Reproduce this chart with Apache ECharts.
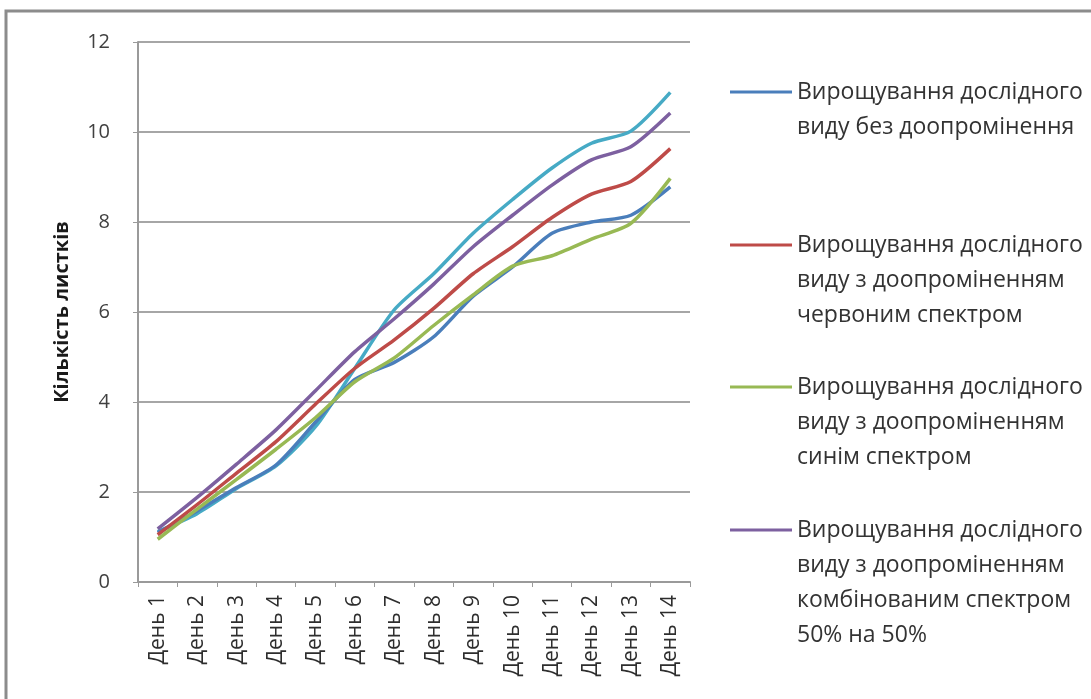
<!DOCTYPE html>
<html>
<head>
<meta charset="utf-8">
<script src="https://cdn.jsdelivr.net/npm/echarts@6/dist/echarts.min.js"></script>
<style>
  html, body { margin: 0; padding: 0; background: #ffffff; }
  #chart { width: 1091px; height: 699px; }
</style>
</head>
<body>
<div id="chart"></div>
<script>
// Leaf count per day for each growing regime
const days = ['День 1', 'День 2', 'День 3', 'День 4', 'День 5', 'День 6', 'День 7',
              'День 8', 'День 9', 'День 10', 'День 11', 'День 12', 'День 13', 'День 14'];

const noLight   = [1.10, 1.58, 2.10, 2.60, 3.55, 4.50, 4.88, 5.45, 6.35, 7.00, 7.75, 8.00, 8.15, 8.78];
const redLight  = [1.05, 1.72, 2.42, 3.12, 3.95, 4.75, 5.38, 6.08, 6.85, 7.45, 8.10, 8.62, 8.90, 9.63];
const blueLight = [0.95, 1.62, 2.28, 2.95, 3.65, 4.45, 4.98, 5.70, 6.38, 7.02, 7.25, 7.62, 7.97, 8.97];
const combined  = [1.18, 1.88, 2.62, 3.38, 4.25, 5.12, 5.85, 6.62, 7.45, 8.15, 8.82, 9.38, 9.67, 10.42];
const extra     = [1.12, 1.52, 2.08, 2.58, 3.45, 4.75, 6.05, 6.85, 7.75, 8.50, 9.20, 9.75, 10.02, 10.88];

const seriesNames = [
  'Вирощування дослідного\nвиду без доопромінення',
  'Вирощування дослідного\nвиду з доопроміненням\nчервоним спектром',
  'Вирощування дослідного\nвиду з доопроміненням\nсинім спектром',
  'Вирощування дослідного\nвиду з доопроміненням\nкомбінованим спектром\n50% на 50%',
  'Серія 5'
];
const yTicks = { min: 0, max: 12, step: 2 };

const colors = ['#4a7ebb', '#be4b48', '#98b954', '#7d60a0', '#46aac5'];
const values = [noLight, redLight, blueLight, combined, extra];

const FONT = '"Open Sans", "Noto Sans", sans-serif';
const LINE_H = 35;
// vertical centre of the first text line of each legend entry
const legendRows = [92, 245, 387, 530];

// One legend per entry, so the line sample sits beside the first text line:
// blank lines are prepended so that the first real line lands on the sample.
const legends = legendRows.map(function (y, i) {
  const n = seriesNames[i].split('\n').length;
  const total = 2 * n - 1;
  return {
    data: [seriesNames[i]],
    orient: 'vertical',
    left: 730,
    top: y - total * LINE_H / 2,
    padding: 0,
    icon: 'rect',
    itemWidth: 62,
    itemHeight: 3,
    selectedMode: false,
    formatter: function (name) {
      return '\n'.repeat(n - 1) + name;
    },
    textStyle: {
      fontFamily: FONT,
      fontSize: 23,
      color: '#333333',
      lineHeight: LINE_H
    }
  };
});

const chart = echarts.init(document.getElementById('chart'), null, { renderer: 'canvas' });
chart.setOption({
  backgroundColor: '#ffffff',
  animation: false,
  color: colors,
  graphic: [{
    type: 'rect',
    shape: { x: 6, y: 11, width: 1200, height: 800 },
    style: { fill: 'none', stroke: '#8c8c8c', lineWidth: 3 },
    silent: true
  }],
  legend: legends,
  grid: { left: 138, top: 42, right: 401, bottom: 117 },
  xAxis: {
    type: 'category',
    data: days,
    boundaryGap: true,
    axisLine: { lineStyle: { color: '#9a9a9a', width: 2 } },
    axisTick: { show: true, length: 5, lineStyle: { color: '#9a9a9a' } },
    axisLabel: {
      rotate: 90,
      margin: 13,
      fontFamily: FONT,
      fontSize: 21,
      color: '#2e2e2e'
    }
  },
  yAxis: {
    type: 'value',
    min: yTicks.min,
    max: yTicks.max,
    interval: yTicks.step,
    name: 'Кількість листків',
    nameLocation: 'middle',
    nameRotate: 90,
    nameGap: 66,
    nameTextStyle: { fontFamily: FONT, fontSize: 20, fontWeight: 'bold', color: '#1a1a1a' },
    axisLine: { show: true, lineStyle: { color: '#9a9a9a', width: 2 } },
    axisTick: { show: true, length: 5, lineStyle: { color: '#9a9a9a' } },
    splitLine: { show: true, lineStyle: { color: '#a6a6a6', width: 2 } },
    axisLabel: {
      margin: 28,
      fontFamily: FONT,
      fontSize: 20,
      color: '#404040'
    }
  },
  series: values.map(function (v, i) {
    return {
      name: seriesNames[i],
      type: 'line',
      data: v,
      smooth: 0.25,
      showSymbol: false,
      lineStyle: { width: 3.5, color: colors[i] },
      z: i === 4 ? 1 : 2 + i
    };
  })
});
</script>
</body>
</html>
